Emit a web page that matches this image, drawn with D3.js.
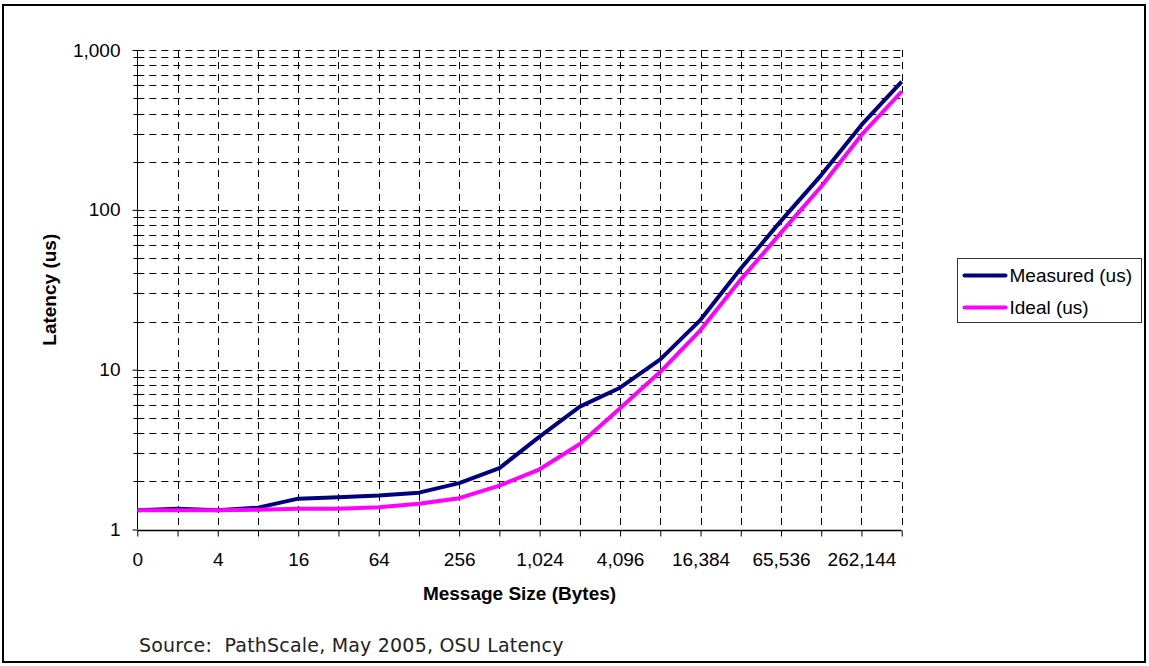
<!DOCTYPE html>
<html>
<head>
<meta charset="utf-8">
<script src="https://cdn.jsdelivr.net/npm/d3@7"></script>
<style>
  body { margin: 0; background: #fff; }
  text { font-family: "Liberation Sans", Arial, sans-serif; }
</style>
</head>
<body>
<div id="chart"></div>
<script>
var width = 1149;
var height = 666;

// message sizes (bytes), one per category on the x axis
var sizes = [0, 2, 4, 8, 16, 32, 64, 128, 256, 512, 1024, 2048, 4096, 8192,
             16384, 32768, 65536, 131072, 262144, 524288];

// latency in us
var measured = [1.32, 1.35, 1.32, 1.37, 1.56, 1.59, 1.63, 1.70, 1.95, 2.42,
                3.81, 5.87, 7.71, 11.6, 20.5, 42.9, 85.3, 165, 340, 634];
var ideal = [1.32, 1.32, 1.32, 1.33, 1.35, 1.35, 1.38, 1.45, 1.57, 1.88,
             2.38, 3.43, 5.73, 9.7, 17.7, 36.6, 72, 140, 294, 550];

var seriesNames = ["Measured (us)", "Ideal (us)"];
var seriesColors = ["#000080", "#ff00ff"];

var yMajor = [1, 10, 100, 1000];

// plot area (note: "top" is taken by window.top, so prefix these)
var plotLeft = 137.3, plotRight = 901.7, plotTop = 50, plotBottom = 529.5;

var svg = d3.select("#chart")
    .append("svg")
    .attr("width", width)
    .attr("height", height);

// outer frame
svg.append("rect")
    .attr("x", 3)
    .attr("y", 5)
    .attr("width", 1142)
    .attr("height", 657)
    .attr("fill", "none")
    .attr("stroke", "black")
    .attr("stroke-width", 2);

var xScale = d3.scalePoint().domain(sizes).range([plotLeft, plotRight]);
var yScale = d3.scaleLog().domain([1, 1000]).range([plotBottom, plotTop]);

// all log grid values: 1..9 per decade, plus 1000
var gridVals = [];
for (var dec = 1; dec < 1000; dec *= 10) {
    for (var k = 1; k < 10; k++) gridVals.push(dec * k);
}
gridVals.push(1000);
var minorVals = gridVals.filter(function(v) { return yMajor.indexOf(v) < 0; });

var grid = svg.append("g").attr("class", "grid");

grid.selectAll(".hgrid")
    .data(gridVals.filter(function(v) { return v > 1; }))
    .enter()
    .append("line")
    .attr("x1", plotLeft)
    .attr("x2", plotRight)
    .attr("y1", function(d) { return Math.round(yScale(d)) + 0.5; })
    .attr("y2", function(d) { return Math.round(yScale(d)) + 0.5; })
    .attr("stroke", "black")
    .attr("stroke-dasharray", "7,5");

grid.selectAll(".vgrid")
    .data(sizes.slice(1))
    .enter()
    .append("line")
    .attr("x1", function(d) { return Math.round(xScale(d)) + 0.5; })
    .attr("x2", function(d) { return Math.round(xScale(d)) + 0.5; })
    .attr("y1", plotTop)
    .attr("y2", plotBottom)
    .attr("stroke", "black")
    .attr("stroke-dasharray", "7,5");

// y axis (major ticks outside, minor ticks crossing)
var yAxis = d3.axisLeft(yScale)
    .tickValues(yMajor)
    .tickFormat(d3.format(","))
    .tickSize(5)
    .tickPadding(12);

var yG = svg.append("g")
    .attr("transform", "translate(" + (Math.round(plotLeft) + 0.5) + ",0)")
    .call(yAxis);
yG.select(".domain").attr("d", "M0," + plotTop + "V" + plotBottom);
yG.selectAll("text").style("font-size", "19px").attr("fill", "black");

yG.selectAll(".minor")
    .data(minorVals)
    .enter()
    .append("line")
    .attr("class", "minor")
    .attr("x1", -4)
    .attr("x2", 4)
    .attr("y1", function(d) { return Math.round(yScale(d)) + 0.5; })
    .attr("y2", function(d) { return Math.round(yScale(d)) + 0.5; })
    .attr("stroke", "black");

// x axis, label every other category
var xAxis = d3.axisBottom(xScale)
    .tickSize(6)
    .tickFormat(function(d, i) { return i % 2 === 0 ? d3.format(",")(d) : ""; });

var xG = svg.append("g")
    .attr("transform", "translate(0," + (Math.round(plotBottom) + 0.5) + ")")
    .call(xAxis);
xG.select(".domain").attr("d", "M" + plotLeft + ",0H" + plotRight).attr("stroke-width", 1.3);
xG.selectAll("text")
    .attr("y", 35)
    .attr("dy", 0)
    .style("font-size", "19px")
    .attr("fill", "black");

// series lines
var line = d3.line()
    .x(function(d, i) { return xScale(sizes[i]); })
    .y(function(d) { return yScale(d); });

var allSeries = [measured, ideal];

svg.selectAll(".series")
    .data(allSeries)
    .enter()
    .append("path")
    .attr("class", "series")
    .attr("d", line)
    .attr("fill", "none")
    .attr("stroke", function(d, i) { return seriesColors[i]; })
    .attr("stroke-width", 4)
    .attr("stroke-linejoin", "round");

// axis titles
svg.append("text")
    .attr("x", (plotLeft + plotRight) / 2)
    .attr("y", 600)
    .attr("text-anchor", "middle")
    .style("font-size", "19px")
    .style("font-weight", "bold")
    .text("Message Size (Bytes)");

svg.append("text")
    .attr("transform", "translate(56," + ((plotTop + plotBottom) / 2) + ") rotate(-90)")
    .attr("text-anchor", "middle")
    .style("font-size", "19px")
    .style("font-weight", "bold")
    .text("Latency (us)");

// legend
var legend = svg.append("g").attr("transform", "translate(957.5,258.5)");
legend.append("rect")
    .attr("width", 184)
    .attr("height", 64)
    .attr("fill", "white")
    .attr("stroke", "#333")
    .attr("stroke-width", 1);

var items = legend.selectAll(".item")
    .data(seriesNames)
    .enter()
    .append("g")
    .attr("class", "item")
    .attr("transform", function(d, i) { return "translate(0," + (17 + i * 32) + ")"; });

items.append("line")
    .attr("x1", 7)
    .attr("x2", 48)
    .attr("stroke", function(d, i) { return seriesColors[i]; })
    .attr("stroke-width", 4)
    .attr("stroke-linecap", "round");

items.append("text")
    .attr("x", 52)
    .attr("y", 6.5)
    .style("font-size", "19px")
    .text(function(d) { return d; });

// source note
svg.append("text")
    .attr("x", 139)
    .attr("y", 652)
    .style("font-family", "'DejaVu Sans', Verdana, sans-serif")
    .style("font-size", "19px")
    .style("letter-spacing", "0.2px")
    .style("white-space", "pre")
    .attr("fill", "#222")
    .text("Source:  PathScale, May 2005, OSU Latency");
</script>
</body>
</html>
